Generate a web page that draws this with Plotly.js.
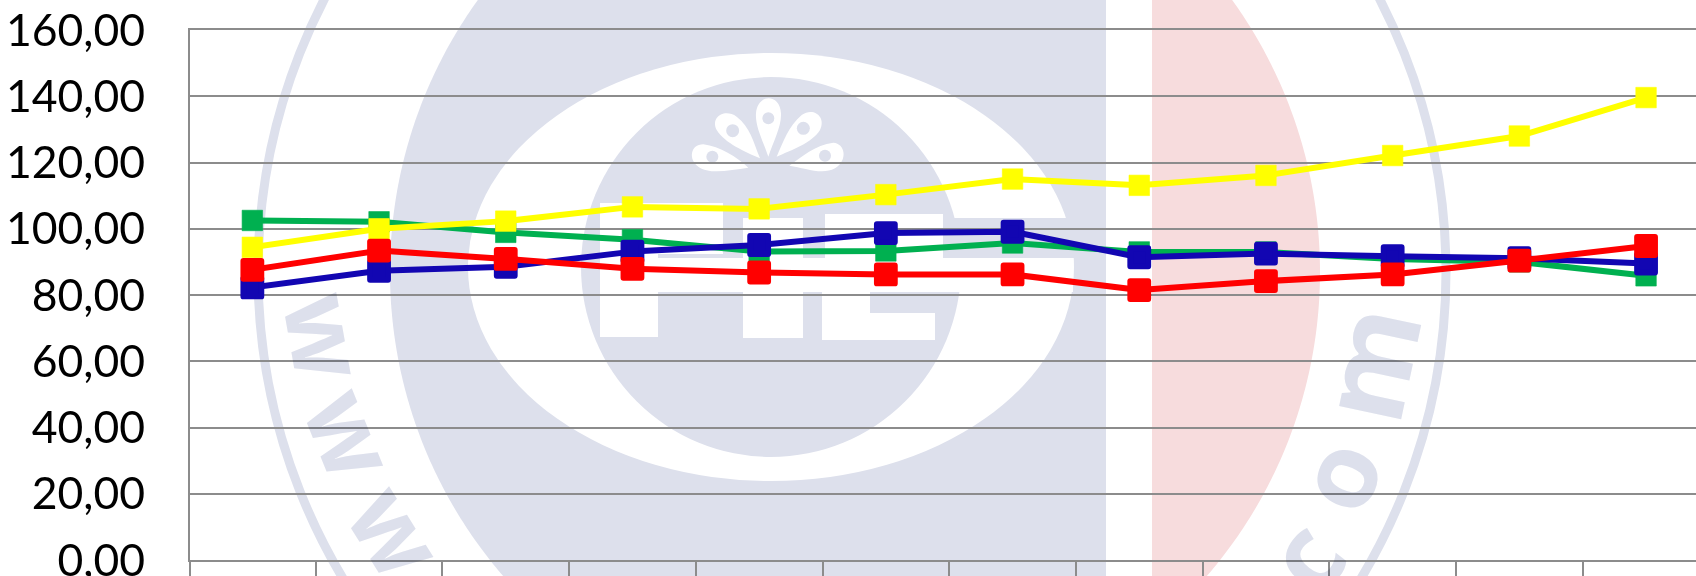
<!DOCTYPE html>
<html>
<head>
<meta charset="utf-8">
<script src="https://cdn.plot.ly/plotly-3.0.1.min.js"></script>
<style>
html,body{margin:0;padding:0;background:#fff;overflow:hidden}
#chart{width:1696px;height:576px}
.scatterlayer .point{stroke-linejoin:round}
.scatterlayer .js-line{stroke-linejoin:round}
.annotation{mix-blend-mode:multiply}
</style>
</head>
<body>
<div id="chart"></div>
<script>
const periods = [1,2,3,4,5,6,7,8,9,10,11,12];
const greenValues  = [102.5,102.1,98.9,96.7,93.1,93.3,95.7,93.0,93.0,90.9,90.0,85.8];
const yellowValues = [94.4,100.0,102.3,106.6,106.0,110.3,115.0,113.1,116.1,122.1,128.0,139.6];
const blueValues   = [82.3,87.3,88.5,93.1,95.1,98.7,99.1,91.4,92.5,91.7,91.1,89.5];
const redValues    = [87.6,93.4,90.9,87.9,86.8,86.2,86.2,81.5,84.2,86.2,90.4,94.8];
const yTicks = [0,20,40,60,80,100,120,140,160];

const W = 1696, H = 576, ML = 190, MT = 30, MB = 16, PW = W - ML, PH = H - MT - MB;
const catWidth = 126.7;
const AXIS = '#8C8C8C', BLUE = '#DDE0EC', PINK = '#F7DCDD', WHITE = '#FFFFFF';

// watermark geometry is given in page pixels and converted to paper fractions
const fx = x => (x - ML) / PW;
const fy = y => (MT + PH - y) / PH;
const poly = pts => 'M' + pts.map(p => fx(p[0]).toFixed(5) + ',' + fy(p[1]).toFixed(5)).join('L') + 'Z';
const pathPx = s => s.replace(/(-?[\d.]+)[ ,](-?[\d.]+)/g, (m, a, b) => fx(+a).toFixed(5) + ',' + fy(+b).toFixed(5));
function clippedDisc(cx, cy, r, xmin, xmax) {
  const pts = [];
  for (let i = 0; i < 720; i++) {
    const t = i * Math.PI / 360;
    pts.push([Math.min(xmax, Math.max(xmin, cx + r * Math.cos(t))), cy + r * Math.sin(t)]);
  }
  return pts;
}
const fillShape = (path, color) => ({type:'path', xref:'paper', yref:'paper', layer:'below', path, fillcolor:color, line:{width:0}});
const rect = (x0, y0, x1, y1, color) => ({type:'rect', xref:'paper', yref:'paper', layer:'below',
  x0:fx(x0), x1:fx(x1), y0:fy(y1), y1:fy(y0), fillcolor:color, line:{width:0}});
const ell = (cx, cy, a, b, color) => ({type:'circle', xref:'paper', yref:'paper', layer:'below',
  x0:fx(cx-a), x1:fx(cx+a), y0:fy(cy+b), y1:fy(cy-b), fillcolor:color, line:{width:0}});
const px = (vx, vy) => (670 + vx/3) + ' ' + (85 + vy/3);
const petal = d => fillShape(pathPx(d.replace(/\{(\d+),(\d+)\}/g, (m,a,b) => px(+a,+b))), WHITE);

const shapes = [
  {type:'circle', xref:'paper', yref:'paper', layer:'below',
   x0:fx(852-594), x1:fx(852+594), y0:fy(272+594), y1:fy(272-594), fillcolor:'rgba(0,0,0,0)', line:{color:BLUE, width:9}},
  fillShape(poly(clippedDisc(855,272,465,0,1106)), BLUE),
  fillShape(poly(clippedDisc(855,272,465,1152,1700)), PINK),
  ell(771,267,303,214,WHITE),
  ell(771,267,190,190,BLUE),
  rect(943,218,1082,258,BLUE),
  rect(600,258,1073,292,WHITE),
  rect(600,203,658,337,WHITE),
  rect(600,203,723,254,WHITE),
  rect(743,218,803,338,WHITE),
  rect(825,214,943,258,WHITE),
  rect(822,258,870,340,WHITE),
  rect(822,313,935,340,WHITE),
  // peacock petals
  petal('M{295,215} C{280,170} {255,125} {258,85} C{262,25} {330,25} {333,85} C{335,125} {310,170} {295,215} Z'),
  petal('M{270,220} C{225,200} {165,175} {140,135} C{120,95} {165,70} {200,95} C{240,125} {250,170} {270,220} Z'),
  petal('M{320,215} C{340,170} {355,125} {395,90} C{430,65} {470,95} {450,135} C{425,175} {365,195} {320,215} Z'),
  petal('M{235,248} C{200,215} {150,185} {100,178} C{60,178} {55,225} {85,245} C{120,270} {180,255} {235,248} Z'),
  petal('M{358,242} C{395,215} {435,180} {490,173} C{525,175} {535,225} {495,250} C{455,272} {405,248} {358,242} Z'),
  ell(670+295/3,85+100/3,6,6,BLUE),
  ell(670+188/3,85+137/3,6.5,6.5,BLUE),
  ell(670+400/3,85+130/3,6.5,6.5,BLUE),
  ell(670+127/3,85+215/3,6,6,BLUE),
  ell(670+465/3,85+212/3,6,6,BLUE),
  // left axis line continues below the baseline as the first tick
  {type:'line', xref:'paper', yref:'paper', x0:0, x1:0, y0:0, y1:fy(580), line:{color:AXIS, width:2}, layer:'above'}
];

const mark = (t, x, y, angle, size) => ({text:t, xref:'paper', yref:'paper', x:fx(x), y:fy(y), xanchor:'center', yanchor:'middle',
  showarrow:false, textangle:angle, font:{family:'"Open Sans", sans-serif', size, color:BLUE, weight:700}});
const annotations = [
  mark('w',328,336,80,100), mark('w',353,433,68,100), mark('w',398,530,58,100),
  mark('c',1303,555,-52,105), mark('o',1336,474,-66,105), mark('m',1367,363,-78,116)
];

const series = (name, y, color, size, lw) => ({
  type:'scatter', mode:'lines+markers', name, x:periods, y,
  line:{color, width:6, simplify:false},
  marker:{symbol:'square', color, size, line:{color, width:lw}},
  cliponaxis:false, hoverinfo:'skip'
});
const data = [
  series('Green', greenValues, '#00B050', 20.5, 0.6),
  series('Yellow', yellowValues, '#FFFF00', 20.5, 0.6),
  series('Blue', blueValues, '#1206B2', 18, 5.8),
  series('Red', redValues, '#FF0000', 18, 5.8)
];

const layout = {
  width:W, height:H, showlegend:false,
  margin:{l:ML, r:0, t:MT, b:MB, pad:0},
  paper_bgcolor:'#FFFFFF', plot_bgcolor:'rgba(0,0,0,0)',
  separators:', ',
  font:{family:'Lato, sans-serif', color:'#000'},
  xaxis:{type:'linear', range:[0.5 + 1/catWidth, 0.5 + 1/catWidth + PW/catWidth], tick0:0.5, dtick:1, tickmode:'linear',
    showticklabels:false, showgrid:false, zeroline:false, showline:true, mirror:true, linecolor:AXIS, linewidth:2,
    ticks:'outside', ticklen:18, tickwidth:2, tickcolor:AXIS},
  yaxis:{range:[0,160], tickvals:yTicks, tickformat:'.2f', ticks:'', ticklabelstandoff:34, ticklabeloverflow:'allow',
    tickfont:{family:'Lato, sans-serif', size:44.5, color:'#000'},
    showgrid:true, gridcolor:AXIS, gridwidth:2, zeroline:false, showline:true, linecolor:AXIS, linewidth:2},
  shapes, annotations
};
Plotly.newPlot('chart', data, layout, {displayModeBar:false, staticPlot:true});
</script>
</body>
</html>
